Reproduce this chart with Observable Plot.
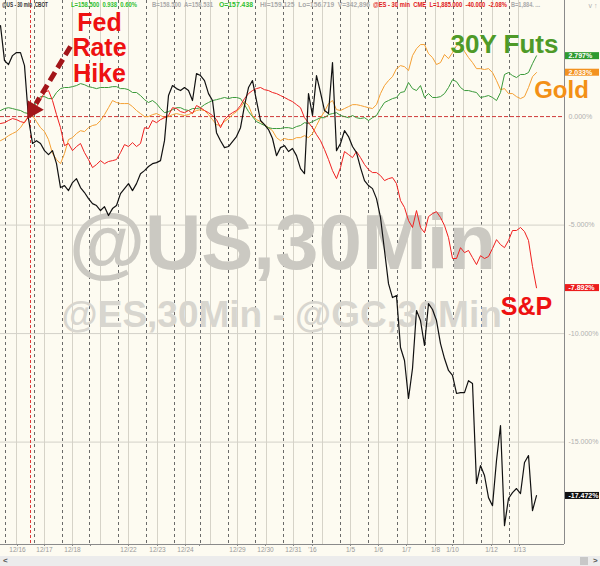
<!DOCTYPE html>
<html><head><meta charset="utf-8">
<script src="https://cdn.jsdelivr.net/npm/d3@7"></script>
<script src="https://cdn.jsdelivr.net/npm/@observablehq/plot@0.6"></script>
<style>
html,body{margin:0;padding:0;background:#fdfbf1;}
#wrap{position:relative;width:600px;height:566px;overflow:hidden;}
#hdr span{position:absolute;top:1px;font:bold 7.5px "Liberation Sans",Arial,sans-serif;line-height:7px;transform-origin:left top;white-space:pre;}
#strip{position:absolute;left:0;top:556px;width:600px;height:10px;background:#ececec;font:bold 8px "Liberation Sans",Arial,sans-serif;color:#555;}
</style></head><body><div id="wrap"></div>
<script>
// ---- data (percent change, sampled every bar; bar index = x) ----
const crude = [4.19,2.58,2.40,2.81,2.95,2.95,2.35,-0.09,-1.24,-1.11,
-1.24,-1.57,-1.75,-1.57,-2.17,-3.27,-3.18,-3.41,-3.04,-2.86,
-3.27,-3.50,-3.78,-4.01,-4.10,-4.33,-4.15,-4.56,-4.24,-4.10,
-3.55,-3.32,-3.09,-3.41,-3.09,-2.63,-2.49,-2.30,-2.17,-2.12,
-2.03,-1.11,0.97,1.43,1.29,1.20,1.34,1.20,0.74,1.98,
1.89,1.66,1.06,0.74,-0.74,-1.11,-1.43,-1.38,-1.15,-0.92,
-0.51,0.51,1.34,1.66,0.74,-0.18,-0.37,-0.60,-1.01,-1.80,
-1.43,-1.34,-1.61,-1.47,-1.80,-2.40,-2.63,1.06,0.05,1.89,
1.11,0.28,0.14,2.49,-1.57,-1.24,-0.65,-0.92,-1.38,-1.66,
-2.35,-2.95,-3.18,-3.32,-3.78,-4.65,-6.17,-7.70,-8.34,-8.25,
-10.64,-11.24,-12.99,-11.61,-8.94,-9.40,-10.55,-8.62,-8.89,-9.40,
-10.46,-11.15,-11.70,-11.93,-12.76,-12.72,-12.72,-12.17,-12.30,-16.91,
-16.08,-16.54,-17.56,-17.93,-15.85,-14.24,-18.85,-17.60,-17.33,-17.14,
-17.37,-15.94,-15.62,-18.16,-17.47];
const spx = [-0.32,-0.28,-0.18,-0.09,-0.14,-0.23,-0.28,0.00,0.23,0.46,
0.78,1.11,1.20,0.74,0.09,-0.51,-1.34,-1.24,-1.57,-1.38,
-1.24,-1.66,-1.98,-2.35,-2.21,-2.03,-2.17,-2.07,-2.03,-1.98,
-1.66,-1.29,-1.38,-1.20,-1.38,-1.24,-0.51,-0.55,-0.18,-0.28,
-0.14,-0.05,0.05,0.41,0.37,0.23,0.18,0.28,0.14,0.51,
0.41,0.28,0.18,0.05,-0.14,-0.51,-0.14,0.05,0.18,0.28,
0.51,0.83,1.06,1.20,1.29,1.34,1.24,1.20,1.11,1.06,
0.97,0.88,0.78,0.69,0.55,0.41,-0.05,-0.28,-0.51,-0.83,
-1.11,-1.52,-1.98,-2.49,-2.86,-2.35,-1.61,-1.75,-1.89,-1.61,
-1.89,-2.21,-2.44,-2.58,-2.58,-2.72,-2.95,-2.86,-2.81,-3.09,
-3.87,-4.19,-4.79,-5.11,-4.33,-5.11,-5.35,-4.61,-4.47,-4.38,
-4.65,-5.02,-5.58,-6.54,-6.54,-6.04,-6.27,-6.17,-6.50,-6.82,
-6.41,-6.54,-6.45,-6.08,-5.67,-5.90,-6.04,-5.71,-5.25,-5.25,
-5.11,-5.30,-5.71,-6.91,-7.89];
const bond30 = [0.28,0.37,0.41,0.37,0.32,0.28,0.18,0.14,0.37,0.65,
0.92,0.92,0.83,0.83,1.11,1.29,1.34,1.34,1.38,1.43,
1.52,1.47,1.38,1.34,1.29,1.34,1.34,1.34,1.38,1.38,
1.29,1.29,1.24,1.11,1.11,0.97,0.78,0.65,0.74,0.60,
0.37,0.18,0.23,0.32,0.41,0.41,0.32,0.28,0.37,0.37,
0.41,0.55,0.65,0.74,0.78,0.83,0.88,0.83,0.88,0.88,
0.83,0.55,0.23,0.00,-0.23,-0.32,-0.41,-0.51,-0.55,-0.55,
-0.55,-0.51,-0.51,-0.55,-0.46,-0.41,-0.28,-0.32,-0.23,-0.14,
-0.05,-0.05,0.09,0.14,0.18,0.05,0.00,-0.05,0.05,-0.05,
-0.09,-0.05,-0.18,-0.05,0.05,0.37,0.65,0.74,0.83,0.88,
1.11,1.15,1.57,1.29,1.20,1.43,0.88,1.06,0.88,0.88,
0.92,1.06,1.34,1.70,1.61,1.34,1.20,1.20,1.15,1.11,
0.88,0.92,0.97,0.88,0.74,1.11,1.94,2.03,1.89,1.80,
1.94,1.94,2.03,2.44,2.80];
const gold = [-1.11,-1.01,-0.88,-0.78,-0.69,-0.51,-0.23,0.00,0.05,-0.23,
-0.51,-0.69,-1.06,-1.70,-1.98,-2.17,-1.70,-1.06,-0.97,-0.78,
-0.65,-0.69,-0.51,-0.41,-0.37,-0.18,0.09,0.41,0.74,0.65,
0.60,0.60,0.60,0.46,0.28,0.14,0.00,0.00,0.09,0.14,
0.05,-0.05,0.00,0.09,0.14,0.09,0.05,0.09,0.18,0.28,
0.32,0.28,0.09,-0.14,-0.37,-0.41,-0.23,-0.09,0.09,0.23,
0.41,0.69,0.51,0.05,-0.14,-0.23,-0.37,-0.51,-0.65,-0.97,
-1.11,-1.01,-1.06,-1.06,-0.97,-0.97,-0.88,-0.97,-0.78,-0.41,
-0.05,0.23,0.60,0.74,0.32,0.28,0.37,0.46,0.55,0.55,
0.51,0.46,0.41,0.37,0.55,1.06,1.43,1.66,1.84,2.21,
2.35,2.30,2.12,2.81,3.13,3.32,3.32,2.90,2.72,2.40,
2.49,2.86,2.67,2.95,3.27,3.36,3.00,2.72,2.49,2.21,
2.21,2.17,2.21,2.03,1.66,1.24,1.29,1.06,1.06,0.92,
0.83,0.92,1.34,1.84,2.03];

const tickBars   = [4.25,11,18,22.5,32,39.25,46.25,49.75,59.25,66.25,73.25,78,87.5,94.5,101.5,108.75,113,122.75,129.75];
const tickLabels = ["12/16","12/17","12/18","","12/22","12/23","12/24","","12/29","12/30","12/31","'16","1/5","1/6","1/7","1/8","1/10","1/12","1/13"];
const dayLines   = [4,11,18,25,32,39.25,46.25,52.5,59.25,66.5,73.25,80.5,87.5,94.5,101.75,108.75,115.75,123,129.5];
const sessionBreaks = [1.25,8.5,15.5,22.25,29.5,36.5,43.5,50,57,63.75,70.75,78,85,92,99.25,106.25,113.25,120.25,127.25];
const fedHikeBar = 7.5;
const gridPct = [0,-5,-10,-15];
const lastValues = [2.797, 2.033, -7.892, -17.472];
const lastColors = ["#2f9a30", "#f39220", "#ec1c1c", "#111111"];

// header quote line: [text, colour, start px, end px]
const hdrItems = [
  ["@US - 30 min  CBOT","#333",2,48],
  ["L=158.500  0.938  0.60%","#2fbf2f",71,137],
  ["B=158.500  A=158.531","#aaa",152,213],
  ["O=157.438","#2fbf2f",219,253],
  ["Hi=159.125  Lo=156.719  V=342,896","#aaa",260,370],
  ["@ES - 30 min  CME  L=1,885.000  -40.000  -2.08%","#e01818",373,507],
  ["B=1,884. ...","#aaa",511,540]
];

const badges = lastValues.map((v,k)=>({v, c:lastColors[k], t:(v.toFixed(3))+"%"}));
const F = '"Liberation Sans", Arial, sans-serif';

const chart = Plot.plot({
  width:600, height:566,
  marginLeft:0, marginRight:36, marginTop:0, marginBottom:22,
  style:{background:"#fdfbf1", fontFamily:F, overflow:"visible"},
  x:{domain:[0,141], axis:null},
  y:{domain:[-19.72,5.35], axis:null},
  marks:[
    Plot.ruleX(dayLines, {stroke:"#d6d3c8", strokeWidth:1}),
    Plot.ruleX(sessionBreaks, {stroke:"#5a5a5a", strokeWidth:0.9, strokeDasharray:"3,3"}),
    Plot.ruleY(gridPct.slice(1), {stroke:"#d3d1c9"}),
    Plot.text(["@US,30Min"], {x:70.5, y:-5.85, fontSize:78, fontWeight:"bold", fill:"#cbc9c2", fontFamily:F}),
    Plot.text(["@ES,30Min - @GC,30Min"], {x:70.3, y:-9.13, fontSize:37, fontWeight:"bold", fill:"#d8d6cf", fontFamily:F}),
    Plot.ruleY([0], {stroke:"#cf3a3a", strokeDasharray:"4,2"}),
    Plot.ruleX([fedHikeBar], {stroke:"#e03a3a", strokeDasharray:"3,2"}),
    Plot.lineY(gold, {stroke:"#f5a033", strokeWidth:1}),
    Plot.lineY(bond30, {stroke:"#3a9a3a", strokeWidth:1}),
    Plot.lineY(spx, {stroke:"#f02020", strokeWidth:1}),
    Plot.lineY(crude, {stroke:"#111", strokeWidth:1.2}),
    Plot.ruleX([141], {stroke:"#8a8a8a"}),
    Plot.ruleY([-19.72], {stroke:"#8a8a8a"}),
    Plot.axisX({ticks:tickBars, tickFormat:(d,i)=>tickLabels[i], tickSize:2, tickPadding:1, fontSize:6.5, color:"#9a9a9a", stroke:"#8a8a8a"}),
    Plot.axisY({anchor:"right", ticks:gridPct, tickSize:0, tickPadding:4, tickFormat:d=>d.toFixed(3)+"%", fontSize:7, fill:"#b0b0b0"}),
    Plot.link([0], {x1:17.5, y1:3.23, x2:8.9, y2:0.60, stroke:"#a3161a", strokeWidth:5, strokeDasharray:"10,5"}),
    Plot.dot([0], {x:8.1, y:0.32, symbol:"triangle", r:7, fill:"#a3161a", stroke:"none", rotate:211}),
    Plot.text(["Fed"], {x:24.75, y:4.31, fontSize:25, fontWeight:"bold", fill:"#ee1111", fontFamily:F}),
    Plot.text(["Rate"], {x:24.75, y:3.14, fontSize:25, fontWeight:"bold", fill:"#ee1111", fontFamily:F}),
    Plot.text(["Hike"], {x:24.75, y:1.96, fontSize:25, fontWeight:"bold", fill:"#ee1111", fontFamily:F}),
    Plot.text(["30Y Futs"], {x:126, y:3.33, fontSize:26, fontWeight:"bold", fill:"#4e9a28", fontFamily:F}),
    Plot.text(["S&P"], {x:131.5, y:-8.76, fontSize:25, fontWeight:"bold", fill:"#ee1111", fontFamily:F}),
    Plot.text(badges, {frameAnchor:"right", y:"v", text:"t", dx:4, textAnchor:"start", fill:"white", fontSize:7, fontWeight:"bold", className:"badges"}),
    Plot.text(["Gold"], {x:140.25, y:1.22, fontSize:24, fontWeight:"bold", fill:"#f39016", fontFamily:F})
  ]
});

const wrap = document.getElementById("wrap");
wrap.appendChild(chart);

// badge backgrounds
const svg = wrap.querySelector("svg");
const sb = svg.getBoundingClientRect();
const badgeG = svg.querySelector("g.badges");
const bgG = document.createElementNS("http://www.w3.org/2000/svg","g");
badgeG.parentNode.insertBefore(bgG, badgeG);
badgeG.querySelectorAll("text").forEach((t,k)=>{
  const b = t.getBoundingClientRect();
  const r = document.createElementNS("http://www.w3.org/2000/svg","rect");
  r.setAttribute("x", 565); r.setAttribute("y", b.top - sb.top);
  r.setAttribute("width", 34); r.setAttribute("height", b.height);
  r.setAttribute("fill", badges[k].c);
  bgG.appendChild(r);
});

// header, each group squeezed to the width it takes in the terminal font
const hdr = document.createElement("div"); hdr.id="hdr";
wrap.appendChild(hdr);
hdrItems.forEach(([s,c,l,r])=>{
  const sp=document.createElement("span"); sp.textContent=s; sp.style.left=l+"px"; sp.style.color=c;
  hdr.appendChild(sp);
  const w = sp.getBoundingClientRect().width;
  sp.style.transform = "scaleX(" + ((r-l)/w).toFixed(3) + ")";
});
const strip = document.createElement("div"); strip.id="strip";
strip.innerHTML = '<span style="position:absolute;left:3px;top:0px">&lt;</span><span style="position:absolute;left:580px;top:1px;width:8px;height:8px;background:#c8c8c8"></span><span style="position:absolute;left:593px;top:0px">&gt;</span>';
wrap.appendChild(strip);
</script></body></html>
